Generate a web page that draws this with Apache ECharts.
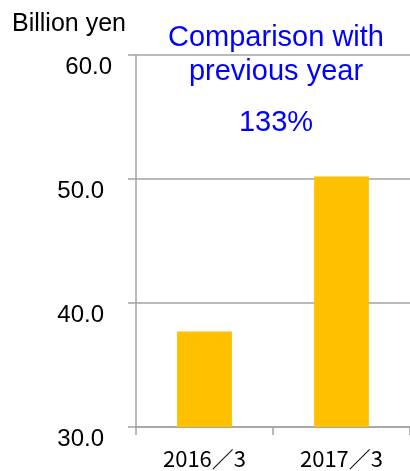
<!DOCTYPE html>
<html>
<head>
<meta charset="utf-8">
<script src="https://cdn.jsdelivr.net/npm/echarts@6/dist/echarts.min.js"></script>
<style>
  html, body { margin: 0; padding: 0; background: #fff; }
  #chart { width: 410px; height: 471px; }
</style>
</head>
<body>
<div id="chart"></div>
<script>
// Fiscal years and sales (billion yen)
const categories = ['2016／3', '2017／3'];
const sales = [37.7, 50.2];
const yTicks = { min: 30, max: 60, interval: 10 };

const unitLabel = 'Billion yen';
const compareLabel = 'Comparison with\nprevious year';
const growth = Math.round(sales[1] / sales[0] * 100) + '%';

const gray = '#A3A3A3';
const chart = echarts.init(document.getElementById('chart'));

chart.setOption({
  animation: false,
  title: [
    {
      text: unitLabel,
      left: 12, top: 12, padding: 0,
      textStyle: { fontFamily: 'Liberation Sans', fontSize: 25, fontWeight: 'normal', color: '#000' }
    },
    {
      text: compareLabel,
      left: 276, top: 21, padding: 0, textAlign: 'center',
      textStyle: { fontFamily: 'Liberation Sans', fontSize: 29, fontWeight: 'normal', color: '#0000FF', lineHeight: 34 }
    },
    {
      text: growth,
      left: 276, top: 108, padding: 0, textAlign: 'center',
      textStyle: { fontFamily: 'Liberation Sans', fontSize: 29, fontWeight: 'normal', color: '#0000FF' }
    }
  ],
  grid: { left: 136, right: -2, top: 55, bottom: 44, containLabel: false },
  xAxis: {
    type: 'category',
    data: categories,
    boundaryGap: true,
    axisLine: { show: true, lineStyle: { color: gray, width: 1.5 } },
    axisTick: { show: true, alignWithLabel: false, length: 8, lineStyle: { color: gray, width: 1.5 } },
    axisLabel: { fontFamily: 'Noto Sans CJK JP', fontSize: 22, color: '#000', margin: 21 }
  },
  yAxis: {
    type: 'value',
    min: yTicks.min, max: yTicks.max, interval: yTicks.interval,
    axisLine: { show: true, lineStyle: { color: gray, width: 1.5 } },
    axisTick: { show: true, length: 8, lineStyle: { color: gray, width: 1.5 } },
    splitLine: { show: true, lineStyle: { color: gray, width: 1.5 } },
    axisLabel: {
      fontFamily: 'Liberation Sans', fontSize: 24, color: '#000',
      margin: 32, verticalAlign: 'top',
      formatter: v => v === yTicks.max ? '{top|' + v.toFixed(1) + '}' : v.toFixed(1),
      rich: { top: { fontFamily: 'Liberation Sans', fontSize: 24, color: '#000', padding: [0, -8, 0, 0] } }
    }
  },
  series: [{
    type: 'bar',
    data: sales,
    barWidth: '40%',
    itemStyle: { color: '#FFC000' }
  }]
});
</script>
</body>
</html>
